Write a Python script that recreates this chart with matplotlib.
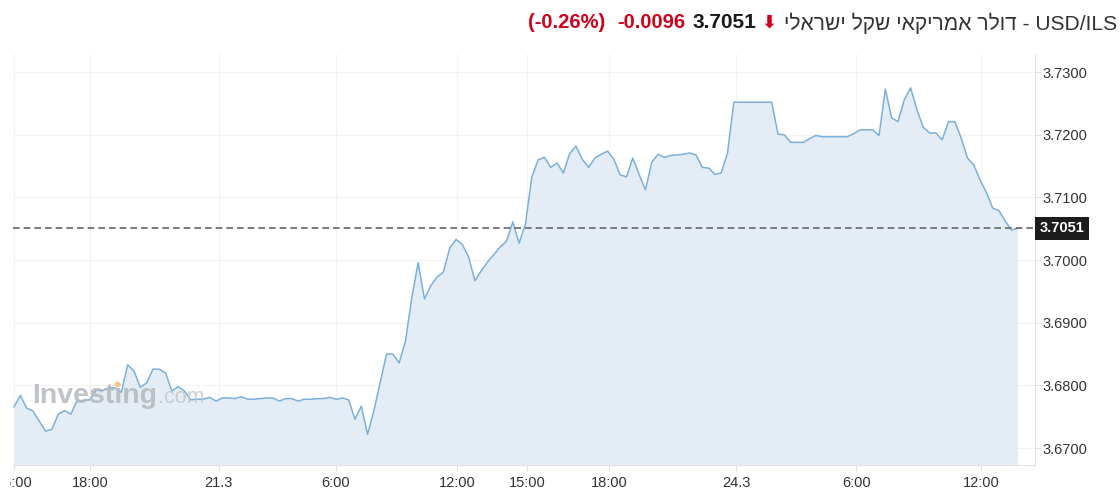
import numpy as np
import matplotlib
matplotlib.use('Agg')
import matplotlib.pyplot as plt
import matplotlib.transforms as mtransforms

plt.rcParams['font.family'] = ['Liberation Sans', 'DejaVu Sans']

# USD/ILS intraday prices, one value per step
prices = [
    3.6766, 3.6784, 3.6764, 3.6759, 3.6743, 3.6727, 3.6730, 3.6754, 3.6760, 3.6754,
    3.6776, 3.6776, 3.6777, 3.6792, 3.6792, 3.6796, 3.6796, 3.6789, 3.6833, 3.6823,
    3.6797, 3.6804, 3.6826, 3.6826, 3.6820, 3.6791, 3.6798, 3.6791, 3.6777, 3.6778,
    3.6778, 3.6781, 3.6775, 3.6780, 3.6780, 3.6779, 3.6782, 3.6778, 3.6778, 3.6779,
    3.6780, 3.6780, 3.6775, 3.6779, 3.6779, 3.6775, 3.6778, 3.6778, 3.6779, 3.6779,
    3.6781, 3.6778, 3.6780, 3.6777, 3.6746, 3.6767, 3.6722, 3.6760, 3.6805, 3.6850,
    3.6850, 3.6836, 3.6871, 3.6940, 3.6996, 3.6938, 3.6959, 3.6973, 3.6981, 3.7019,
    3.7033, 3.7025, 3.7005, 3.6967, 3.6983, 3.6997, 3.7009, 3.7021, 3.7030, 3.7061,
    3.7027, 3.7058, 3.7132, 3.7160, 3.7164, 3.7148, 3.7155, 3.7139, 3.7170, 3.7182,
    3.7161, 3.7148, 3.7163, 3.7169, 3.7174, 3.7161, 3.7136, 3.7133, 3.7163, 3.7137,
    3.7112, 3.7156, 3.7169, 3.7164, 3.7167, 3.7168, 3.7169, 3.7171, 3.7168, 3.7148,
    3.7147, 3.7137, 3.7139, 3.7171, 3.7252, 3.7252, 3.7252, 3.7252, 3.7252, 3.7252,
    3.7252, 3.7201, 3.7200, 3.7188, 3.7188, 3.7188, 3.7194, 3.7199, 3.7197, 3.7197,
    3.7197, 3.7197, 3.7197, 3.7202, 3.7208, 3.7208, 3.7208, 3.7199, 3.7273, 3.7227,
    3.7221, 3.7256, 3.7275, 3.7240, 3.7212, 3.7203, 3.7203, 3.7192, 3.7221, 3.7221,
    3.7195, 3.7163, 3.7152, 3.7128, 3.7108, 3.7083, 3.7079, 3.7062, 3.7048, 3.7051,
]

# x tick positions (in steps) and labels
tick_pos = [0, 12.0, 32.4, 51.0, 70.2, 81.3, 94.3, 114.4, 133.4, 153.2]
tick_labels = ['15:00', '18:00', '21.3', '6:00', '12:00', '15:00', '18:00', '24.3', '6:00', '12:00']
y_ticks = [3.67, 3.68, 3.69, 3.70, 3.71, 3.72, 3.73]

last_price = 3.7051
change = '-0.0096'
change_pct = '(-0.26%)'
name_he = 'דולר אמריקאי שקל ישראלי'

x = np.arange(len(prices))

fig = plt.figure(figsize=(11.2, 5.03), dpi=100)
ax = fig.add_axes([13 / 1120, 38 / 503, 1022 / 1120, 411 / 503])

ax.fill_between(x, prices, 3.6, color='#e4edf5', lw=0, zorder=1)
ax.plot(x, prices, color='#7bb0dc', lw=1.1, zorder=3)
ax.axhline(last_price, color='#666666', lw=1.2, dashes=(4, 2.4), zorder=4)

ax.set_xlim(-0.16, 161.7)
ax.set_ylim(3.6673, 3.7329)

ax.set_xticks(tick_pos)
ax.set_xticklabels(tick_labels)
ax.set_yticks(y_ticks)
ax.set_yticklabels(['%.4f' % v for v in y_ticks])
ax.yaxis.tick_right()
ax.tick_params(axis='both', labelsize=10.5, labelcolor='#333333', color='#e3e3e3',
               length=4, width=0.8)
ax.tick_params(axis='y', pad=1.5)
ax.tick_params(axis='x', pad=4)

# the first label is cut by the chart frame, as in the original widget
clip = mtransforms.TransformedBbox(mtransforms.Bbox([[10 / 1120, 0], [1, 1]]), fig.transFigure)
first = ax.get_xticklabels()[0]
first.set_clip_box(clip)
first.set_clip_on(True)

ax.grid(True, color='#f2f2f2', lw=0.8, zorder=0)
ax.set_axisbelow(True)
for side in ['top', 'left']:
    ax.spines[side].set_visible(False)
for side in ['bottom', 'right']:
    ax.spines[side].set_color('#e3e3e3')
    ax.spines[side].set_linewidth(0.8)

# current price tag on the right axis
trans = mtransforms.blended_transform_factory(ax.transAxes, ax.transData)
ax.text(1.0045, last_price, '%.4f' % last_price, transform=trans, ha='left', va='center',
        color='white', fontsize=10.5, fontweight='bold', zorder=6, clip_on=False,
        bbox=dict(boxstyle='square,pad=0.3', fc='#1c1c1c', ec='none'))

# watermark
ax.text(0.0183, 0.151, 'Investing', transform=ax.transAxes, fontsize=20.5, fontweight='bold',
        color='#b4b8bc', alpha=0.85, va='baseline', ha='left', zorder=5)
ax.text(0.1415, 0.151, '.com', transform=ax.transAxes, fontsize=15.5,
        color='#c4c8cc', alpha=0.85, va='baseline', ha='left', zorder=5)
ax.plot([0.1015], [0.197], marker='o', ms=3.5, color='#f6c48a', alpha=0.8,
        transform=ax.transAxes, zorder=5, clip_on=False)

# header, built right to left
red = '#d0021b'
t = fig.text(1117 / 1120, 1 - 23 / 503, name_he[::-1] + ' - USD/ILS', ha='right', va='center',
             fontsize=15.1, color='#333333')
parts = [
    ('⬇', red, 'bold', 13, 5.5),
    ('%.4f' % last_price, '#1a1a1a', 'bold', 15, 3.5),
    (change, red, 'bold', 14.5, 5),
    (change_pct, red, 'bold', 14.5, 9),
]
prev = t
for s, c, w, fs, gap in parts:
    prev = ax.annotate(s, xy=(0, 0.5), xycoords=prev, xytext=(-gap, 0),
                       textcoords='offset points', ha='right', va='center',
                       color=c, fontweight=w, fontsize=fs, annotation_clip=False)

fig.savefig('out.png', dpi=100)
